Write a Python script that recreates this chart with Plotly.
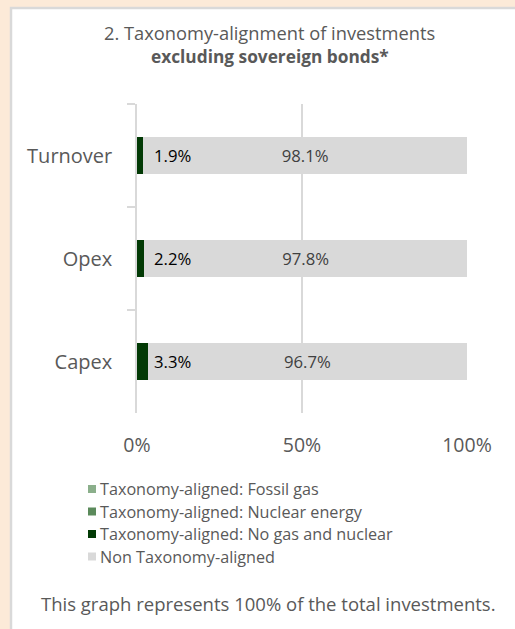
import plotly.graph_objects as go

# ---- data ----
categories = ["Turnover", "Opex", "Capex"]
series_names = [
    "Taxonomy-aligned: Fossil gas",
    "Taxonomy-aligned: Nuclear energy",
    "Taxonomy-aligned: No gas and nuclear",
    "Non Taxonomy-aligned",
]
fossil_gas = [0.0, 0.0, 0.0]
nuclear = [0.0, 0.0, 0.0]
no_gas_nuclear = [1.9, 2.2, 3.3]
non_aligned = [98.1, 97.8, 96.7]
x_tickvals = [0, 50, 100]
x_ticktext = ["0%", "50%", "100%"]
title_line1 = "2. Taxonomy-alignment of investments"
title_line2 = "excluding sovereign bonds*"
footer = "This graph represents 100% of the total investments."

colors = ["#8BAF8B", "#5B8A5B", "#023A05", "#D9D9D9"]
FONT = "Open Sans"
TXT = "#595959"

W, H = 515, 629
L, R, T, B = 137, 467, 104, 413


def px(x):
    return (x - L) / (R - L)


def py(y):
    return 1 - (y - T) / (B - T)


fig = go.Figure()
values = [fossil_gas, nuclear, no_gas_nuclear, non_aligned]
for name, vals, col in zip(series_names, values, colors):
    is_non = name == series_names[3]
    fig.add_trace(go.Bar(
        y=categories, x=vals, name=name, orientation="h",
        marker=dict(color=col, line=dict(width=0)),
        text=[f"{v:.1f}%" for v in vals] if is_non else None,
        textposition="inside" if is_non else "none",
        insidetextanchor="middle",
        textfont=dict(family=FONT, size=16.7, color="#404040"),
        showlegend=False, hoverinfo="skip",
    ))

shapes = [
    dict(type="rect", xref="paper", yref="paper",
         x0=px(11), x1=px(540), y0=py(660), y1=py(8),
         fillcolor="white", line=dict(color="#D9D9D9", width=2.5), layer="below"),
]
annotations = []
# labels for aligned values
for cat, v in zip(categories, no_gas_nuclear):
    annotations.append(dict(x=0, y=cat, xref="x", yref="y", text=f"{v:.1f}%",
                            showarrow=False, xanchor="left", xshift=15,
                            font=dict(family=FONT, size=16.7, color="#000000")))
# title
annotations.append(dict(x=px(269), y=py(33), xref="paper", yref="paper",
                        text=title_line1, showarrow=False, xanchor="center", yanchor="middle",
                        font=dict(family=FONT, size=18.3, color=TXT)))
annotations.append(dict(x=px(270), y=py(56), xref="paper", yref="paper",
                        text=f"<b>{title_line2}</b>", showarrow=False, xanchor="center", yanchor="middle",
                        font=dict(family=FONT, size=17.3, color=TXT)))
# legend
row_y = [489, 511.5, 534, 556.5]
for name, col, yy in zip(series_names, colors, row_y):
    shapes.append(dict(type="rect", xref="paper", yref="paper",
                       x0=px(88), x1=px(96), y0=py(yy + 4), y1=py(yy - 4),
                       fillcolor=col, line=dict(width=0)))
    annotations.append(dict(x=px(98), y=py(yy), xref="paper", yref="paper", text=name,
                            showarrow=False, xanchor="left", yanchor="middle",
                            font=dict(family=FONT, size=16.2, color=TXT)))
# footer
annotations.append(dict(x=px(268.5), y=py(603), xref="paper", yref="paper", text=footer,
                        showarrow=False, xanchor="center", yanchor="middle",
                        font=dict(family=FONT, size=18.5, color=TXT)))

fig.update_layout(
    width=W, height=H,
    margin=dict(l=L, r=W - R, t=T, b=H - B, pad=0),
    paper_bgcolor="#FCEAD8", plot_bgcolor="white",
    barmode="stack", bargap=0.65,
    showlegend=False,
    shapes=shapes, annotations=annotations,
    font=dict(family=FONT, color=TXT),
)
fig.update_xaxes(range=[0, 100], tickvals=x_tickvals, ticktext=x_ticktext,
                 showgrid=True, gridcolor="#D9D9D9", gridwidth=1.5,
                 zeroline=False, showline=False, ticks="",
                 tickfont=dict(family=FONT, size=19.5, color=TXT),
                 ticklabelstandoff=18, fixedrange=True)
fig.update_yaxes(autorange="reversed", showline=True, linecolor="#D9D9D9", linewidth=1.5,
                 ticks="outside", tickson="boundaries", ticklen=8, tickcolor="#D9D9D9",
                 tickwidth=1.5, showgrid=False,
                 tickfont=dict(family=FONT, size=20, color=TXT),
                 ticklabelstandoff=19, fixedrange=True)

fig.write_html("out.html", config={"displayModeBar": False},
               post_script="document.body.style.margin='0px';document.body.style.overflow='hidden';")
